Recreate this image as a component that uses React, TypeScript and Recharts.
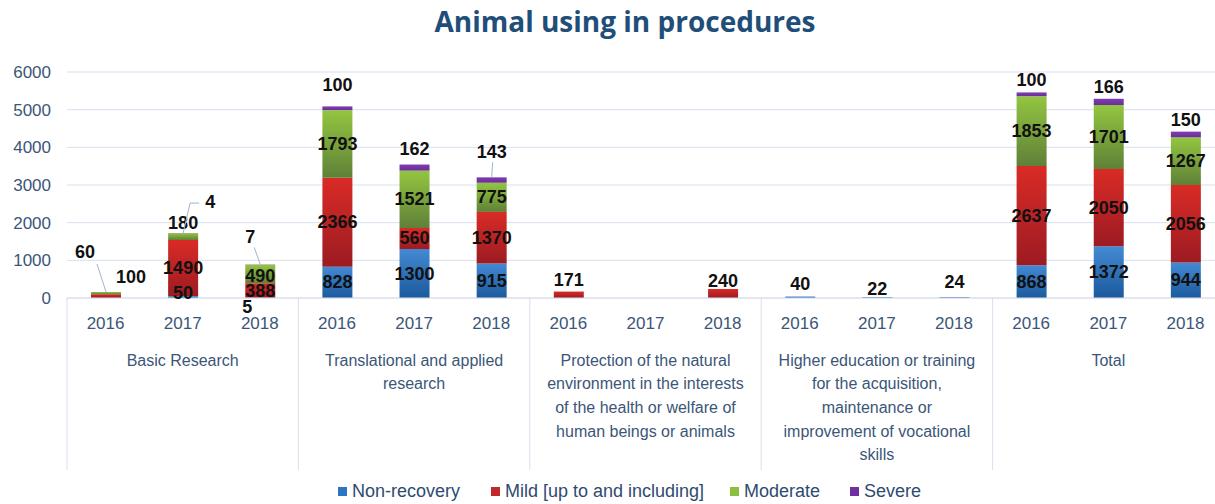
import React from 'react';
import { BarChart, Bar, XAxis, YAxis, CartesianGrid, Legend } from 'recharts';

// ---------- data ----------
const categoryLines: string[][] = [
  ['Basic Research'],
  ['Translational and applied', 'research'],
  ['Protection of the natural', 'environment in the interests', 'of the health or welfare of', 'human beings or animals'],
  ['Higher education or training', 'for the acquisition,', 'maintenance or', 'improvement of vocational', 'skills'],
  ['Total'],
];
const years = ['2016', '2017', '2018'];
const nonRecovery = [0, 50, 5, 828, 1300, 915, 0, 0, 0, 40, 22, 24, 868, 1372, 944];
const mild = [100, 1490, 388, 2366, 560, 1370, 171, 0, 240, 0, 0, 0, 2637, 2050, 2056];
const moderate = [60, 180, 490, 1793, 1521, 775, 0, 0, 0, 0, 0, 0, 1853, 1701, 1267];
const severe = [0, 4, 7, 100, 162, 143, 0, 0, 0, 0, 0, 0, 100, 166, 150];
const yTicks = [0, 1000, 2000, 3000, 4000, 5000, 6000];
const seriesNames = ['Non-recovery', 'Mild [up to and including]', 'Moderate', 'Severe'];
const seriesKeys = ['nonRecovery', 'mild', 'moderate', 'severe'];
const seriesValues = [nonRecovery, mild, moderate, severe];

const data = categoryLines.flatMap((_, gi) =>
  years.map((yr, yi) => {
    const i = gi * 3 + yi;
    return {
      key: `${gi}-${yr}`,
      year: yr,
      group: gi,
      nonRecovery: nonRecovery[i],
      mild: mild[i],
      moderate: moderate[i],
      severe: severe[i],
      total: nonRecovery[i] + mild[i] + moderate[i] + severe[i],
    };
  })
);

// ---------- layout / style ----------
const CHART_W = 1224;
const CHART_H = 504;
const PLOT_LEFT = 67;
const BAND = (CHART_W - PLOT_LEFT) / data.length;
const FONT = '"Liberation Sans", Arial, sans-serif';
const AXIS_TEXT = '#3B5678';
const GRID = '#D9DFEE';
const LEGEND_COLORS = ['#2E75C0', '#C0282B', '#8DBF3F', '#7030A0'];
const FILLS = ['url(#gBlue)', 'url(#gRed)', 'url(#gGreen)', 'url(#gPurple)'];
const LEGEND_X = [338, 491, 730, 850];

type LabelTweak = { dx?: number; dy?: number; leader?: [number, number][] };
const labelTweaks: Record<string, LabelTweak> = {
  'mild-0': { dx: 25, dy: -5 },
  'moderate-0': { dx: -21, dy: -28, leader: [[12, 12]] },
  'nonRecovery-1': { dy: 9 },
  'moderate-1': { dy: 2 },
  'severe-1': { dx: 27, dy: -19, leader: [[-11, 1], [-20, 1]] },
  'nonRecovery-2': { dx: -13, dy: 21 },
  'moderate-2': { dy: 2 },
  'severe-2': { dx: -10, dy: -15, leader: [[4, 10]] },
  'severe-3': { dy: -9 },
  'severe-4': { dy: -4 },
  'severe-5': { dy: -13, leader: [[1, 10]] },
  'mild-8': { dy: 4 },
  'nonRecovery-10': { dy: 4 },
  'nonRecovery-11': { dy: -3 },
};

// All segment labels of one column are drawn on top of the stack, from the
// geometry of an invisible "total" bar that shares the same value scale.
const renderColumnLabels = (props: any) => {
  const { x, y, width, height } = props;
  const index = Math.round((x + width / 2 - PLOT_LEFT) / BAND - 0.5);
  const row = data[index];
  if (!row || !row.total) return null;
  const h = Math.abs(height);
  const base = Math.max(y, y + height);
  const k = h / row.total;
  const cx = x + width / 2;
  let cum = 0;
  const out: React.ReactNode[] = [];
  seriesKeys.forEach((s, si) => {
    const v = seriesValues[si][index];
    const segBottom = base - cum * k;
    cum += v;
    const segTop = base - cum * k;
    if (!v) return;
    const segH = segBottom - segTop;
    const cy = s === 'severe' || segH < 14 ? segTop - 12 : segTop + segH / 2;
    const tw = labelTweaks[`${s}-${index}`] || {};
    const lx = cx + (tw.dx || 0);
    const ly = cy + (tw.dy || 0);
    if (tw.leader) {
      const pts = tw.leader.map(([ax, ay]) => `${lx + ax},${ly + ay}`).join(' ') + ` ${cx},${segTop}`;
      out.push(<polyline key={`l-${s}`} points={pts} fill="none" stroke="#9FB4D0" strokeWidth={1} />);
    }
    out.push(
      <text
        key={`t-${s}`}
        x={lx}
        y={ly}
        textAnchor="middle"
        dominantBaseline="central"
        fontFamily={FONT}
        fontWeight="bold"
        fontSize={18}
        fill="#111"
      >
        {v}
      </text>
    );
  });
  return <g key={`col-${index}`}>{out}</g>;
};

const XTick = (props: any) => {
  const { x, y, index } = props;
  const row = data[index];
  if (!row) return null;
  const yi = index % 3;
  return (
    <g>
      <text x={x} y={y + 25} textAnchor="middle" dominantBaseline="central" fontFamily={FONT} fontSize={17} fill={AXIS_TEXT}>
        {row.year}
      </text>
      {yi === 0 && (
        <line x1={x - BAND / 2} x2={x - BAND / 2} y1={y} y2={y + 172} stroke={GRID} strokeWidth={1} />
      )}
      {yi === 1 &&
        categoryLines[row.group].map((ln, li) => (
          <text
            key={li}
            x={x}
            y={y + 62 + li * 23.7}
            textAnchor="middle"
            dominantBaseline="central"
            fontFamily={FONT}
            fontSize={16}
            fill={AXIS_TEXT}
          >
            {ln}
          </text>
        ))}
    </g>
  );
};

const LegendContent = () => (
  <div style={{ position: 'relative', height: 26, width: CHART_W, fontFamily: FONT }}>
    {seriesNames.map((n, i) => (
      <div
        key={n}
        style={{
          position: 'absolute',
          left: LEGEND_X[i],
          top: 3,
          display: 'flex',
          alignItems: 'center',
          whiteSpace: 'nowrap',
          fontSize: 18,
          color: '#2F4A70',
        }}
      >
        <span style={{ display: 'inline-block', width: 9, height: 9, background: LEGEND_COLORS[i], marginRight: 5 }} />
        <span>{n}</span>
      </div>
    ))}
  </div>
);

export default function App() {
  return (
    <div style={{ position: 'absolute', left: 0, top: 0, width: 1215, height: 504, overflow: 'hidden', background: '#fff' }}>
      <svg width={0} height={0} style={{ position: 'absolute' }}>
        <defs>
          <linearGradient id="gBlue" x1="0" y1="0" x2="0" y2="1">
            <stop offset="0%" stopColor="#4389D4" />
            <stop offset="100%" stopColor="#1B5A9C" />
          </linearGradient>
          <linearGradient id="gRed" x1="0" y1="0" x2="0" y2="1">
            <stop offset="0%" stopColor="#D92B26" />
            <stop offset="100%" stopColor="#9C1B22" />
          </linearGradient>
          <linearGradient id="gGreen" x1="0" y1="0" x2="0" y2="1">
            <stop offset="0%" stopColor="#93C540" />
            <stop offset="100%" stopColor="#5F8138" />
          </linearGradient>
          <linearGradient id="gPurple" x1="0" y1="0" x2="0" y2="1">
            <stop offset="0%" stopColor="#7E3CB0" />
            <stop offset="100%" stopColor="#6A2E98" />
          </linearGradient>
        </defs>
      </svg>
      <div
        style={{
          position: 'absolute',
          left: 0,
          width: 1250,
          top: 3,
          textAlign: 'center',
          fontFamily: '"Open Sans", sans-serif',
          fontWeight: 700,
          fontSize: 28,
          color: '#1F4E79',
          lineHeight: '36px',
        }}
      >
        Animal using in procedures
      </div>
      <BarChart
        width={CHART_W}
        height={CHART_H}
        data={data}
        margin={{ top: 72, right: 0, bottom: 0, left: 0 }}
        barSize={30}
      >
        <CartesianGrid vertical={false} stroke={GRID} />
        <YAxis
          domain={[0, 6000]}
          ticks={yTicks}
          axisLine={false}
          tickLine={false}
          width={PLOT_LEFT}
          tickMargin={10}
          tick={{ fill: AXIS_TEXT, fontSize: 17, fontFamily: FONT }}
        />
        <XAxis
          dataKey="key"
          interval={0}
          height={180}
          tickLine={false}
          tickSize={0}
          tickMargin={0}
          axisLine={{ stroke: GRID }}
          tick={<XTick />}
        />
        <XAxis xAxisId="overlay" dataKey="key" hide />
        <Legend verticalAlign="bottom" content={<LegendContent />} />
        <Bar dataKey="nonRecovery" stackId="a" fill={FILLS[0]} isAnimationActive={false} />
        <Bar dataKey="mild" stackId="a" fill={FILLS[1]} isAnimationActive={false} />
        <Bar dataKey="moderate" stackId="a" fill={FILLS[2]} isAnimationActive={false} />
        <Bar dataKey="severe" stackId="a" fill={FILLS[3]} isAnimationActive={false} />
        <Bar
          dataKey="total"
          xAxisId="overlay"
          fill="transparent"
          legendType="none"
          isAnimationActive={false}
          label={renderColumnLabels}
        />
      </BarChart>
    </div>
  );
}
